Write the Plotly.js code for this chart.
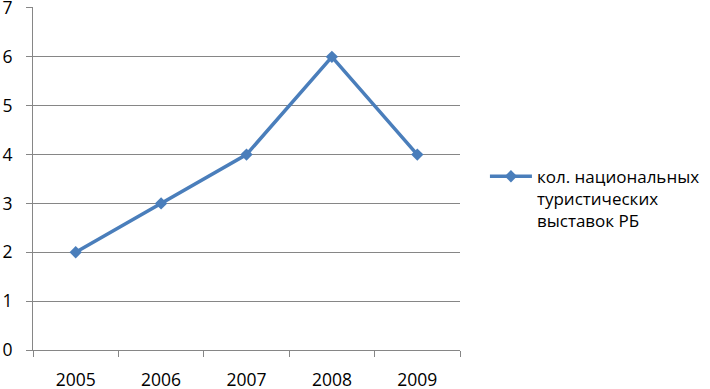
<!DOCTYPE html>
<html>
<head>
<meta charset="utf-8">
<script src="https://cdn.plot.ly/plotly-3.0.1.min.js"></script>
<style>html,body{margin:0;padding:0;background:#fff;}#chart{width:710px;height:389px;}</style>
</head>
<body>
<div id="chart"></div>
<script>
var years = ["2005", "2006", "2007", "2008", "2009"];
var exhibitions = [2, 3, 4, 6, 4];
var seriesName = "кол. национальных<br>туристических<br>выставок РБ";
var yTicks = [0, 1, 2, 3, 4, 5, 6, 7];

var font = "Open Sans, Liberation Sans, sans-serif";
var blue = "#4A7EBB";
var grid = "#868686";

var trace = {
  x: years,
  y: exhibitions,
  type: "scatter",
  mode: "lines+markers",
  name: seriesName,
  line: {color: blue, width: 3.5},
  marker: {symbol: "diamond", size: 9.5, color: blue}
};

var layout = {
  width: 710,
  height: 389,
  margin: {l: 32.5, r: 250, t: 7, b: 38.5, pad: 0, autoexpand: false},
  paper_bgcolor: "#ffffff",
  plot_bgcolor: "#ffffff",
  font: {family: font, size: 18, color: "#000000"},
  showlegend: true,
  legend: {
    xref: "container", yref: "container",
    x: 0.683, y: 0.592, xanchor: "left", yanchor: "top",
    valign: "top",
    itemwidth: 42,
    font: {family: font, size: 17, color: "#000000"},
    bgcolor: "rgba(0,0,0,0)",
    tracegroupgap: 0
  },
  xaxis: {
    type: "category",
    range: [-0.5, 4.5],
    tickson: "boundaries",
    ticks: "outside",
    ticklen: 6,
    tickcolor: grid,
    tickwidth: 1,
    ticklabelstandoff: 14,
    ticklabeloverflow: "allow",
    showline: true,
    linecolor: grid,
    linewidth: 1,
    showgrid: false,
    zeroline: false,
    tickfont: {family: font, size: 17.5, color: "#000000"},
    fixedrange: true
  },
  yaxis: {
    range: [0, 7.02],
    tickvals: yTicks,
    ticks: "outside",
    ticklen: 6,
    tickcolor: grid,
    tickwidth: 1,
    ticklabelstandoff: 10,
    ticklabeloverflow: "allow",
    showline: true,
    linecolor: grid,
    linewidth: 1,
    showgrid: true,
    gridcolor: grid,
    gridwidth: 1,
    zeroline: false,
    tickfont: {family: font, size: 17.5, color: "#000000"},
    fixedrange: true
  }
};

Plotly.newPlot("chart", [trace], layout, {staticPlot: true, displayModeBar: false});
</script>
</body>
</html>
